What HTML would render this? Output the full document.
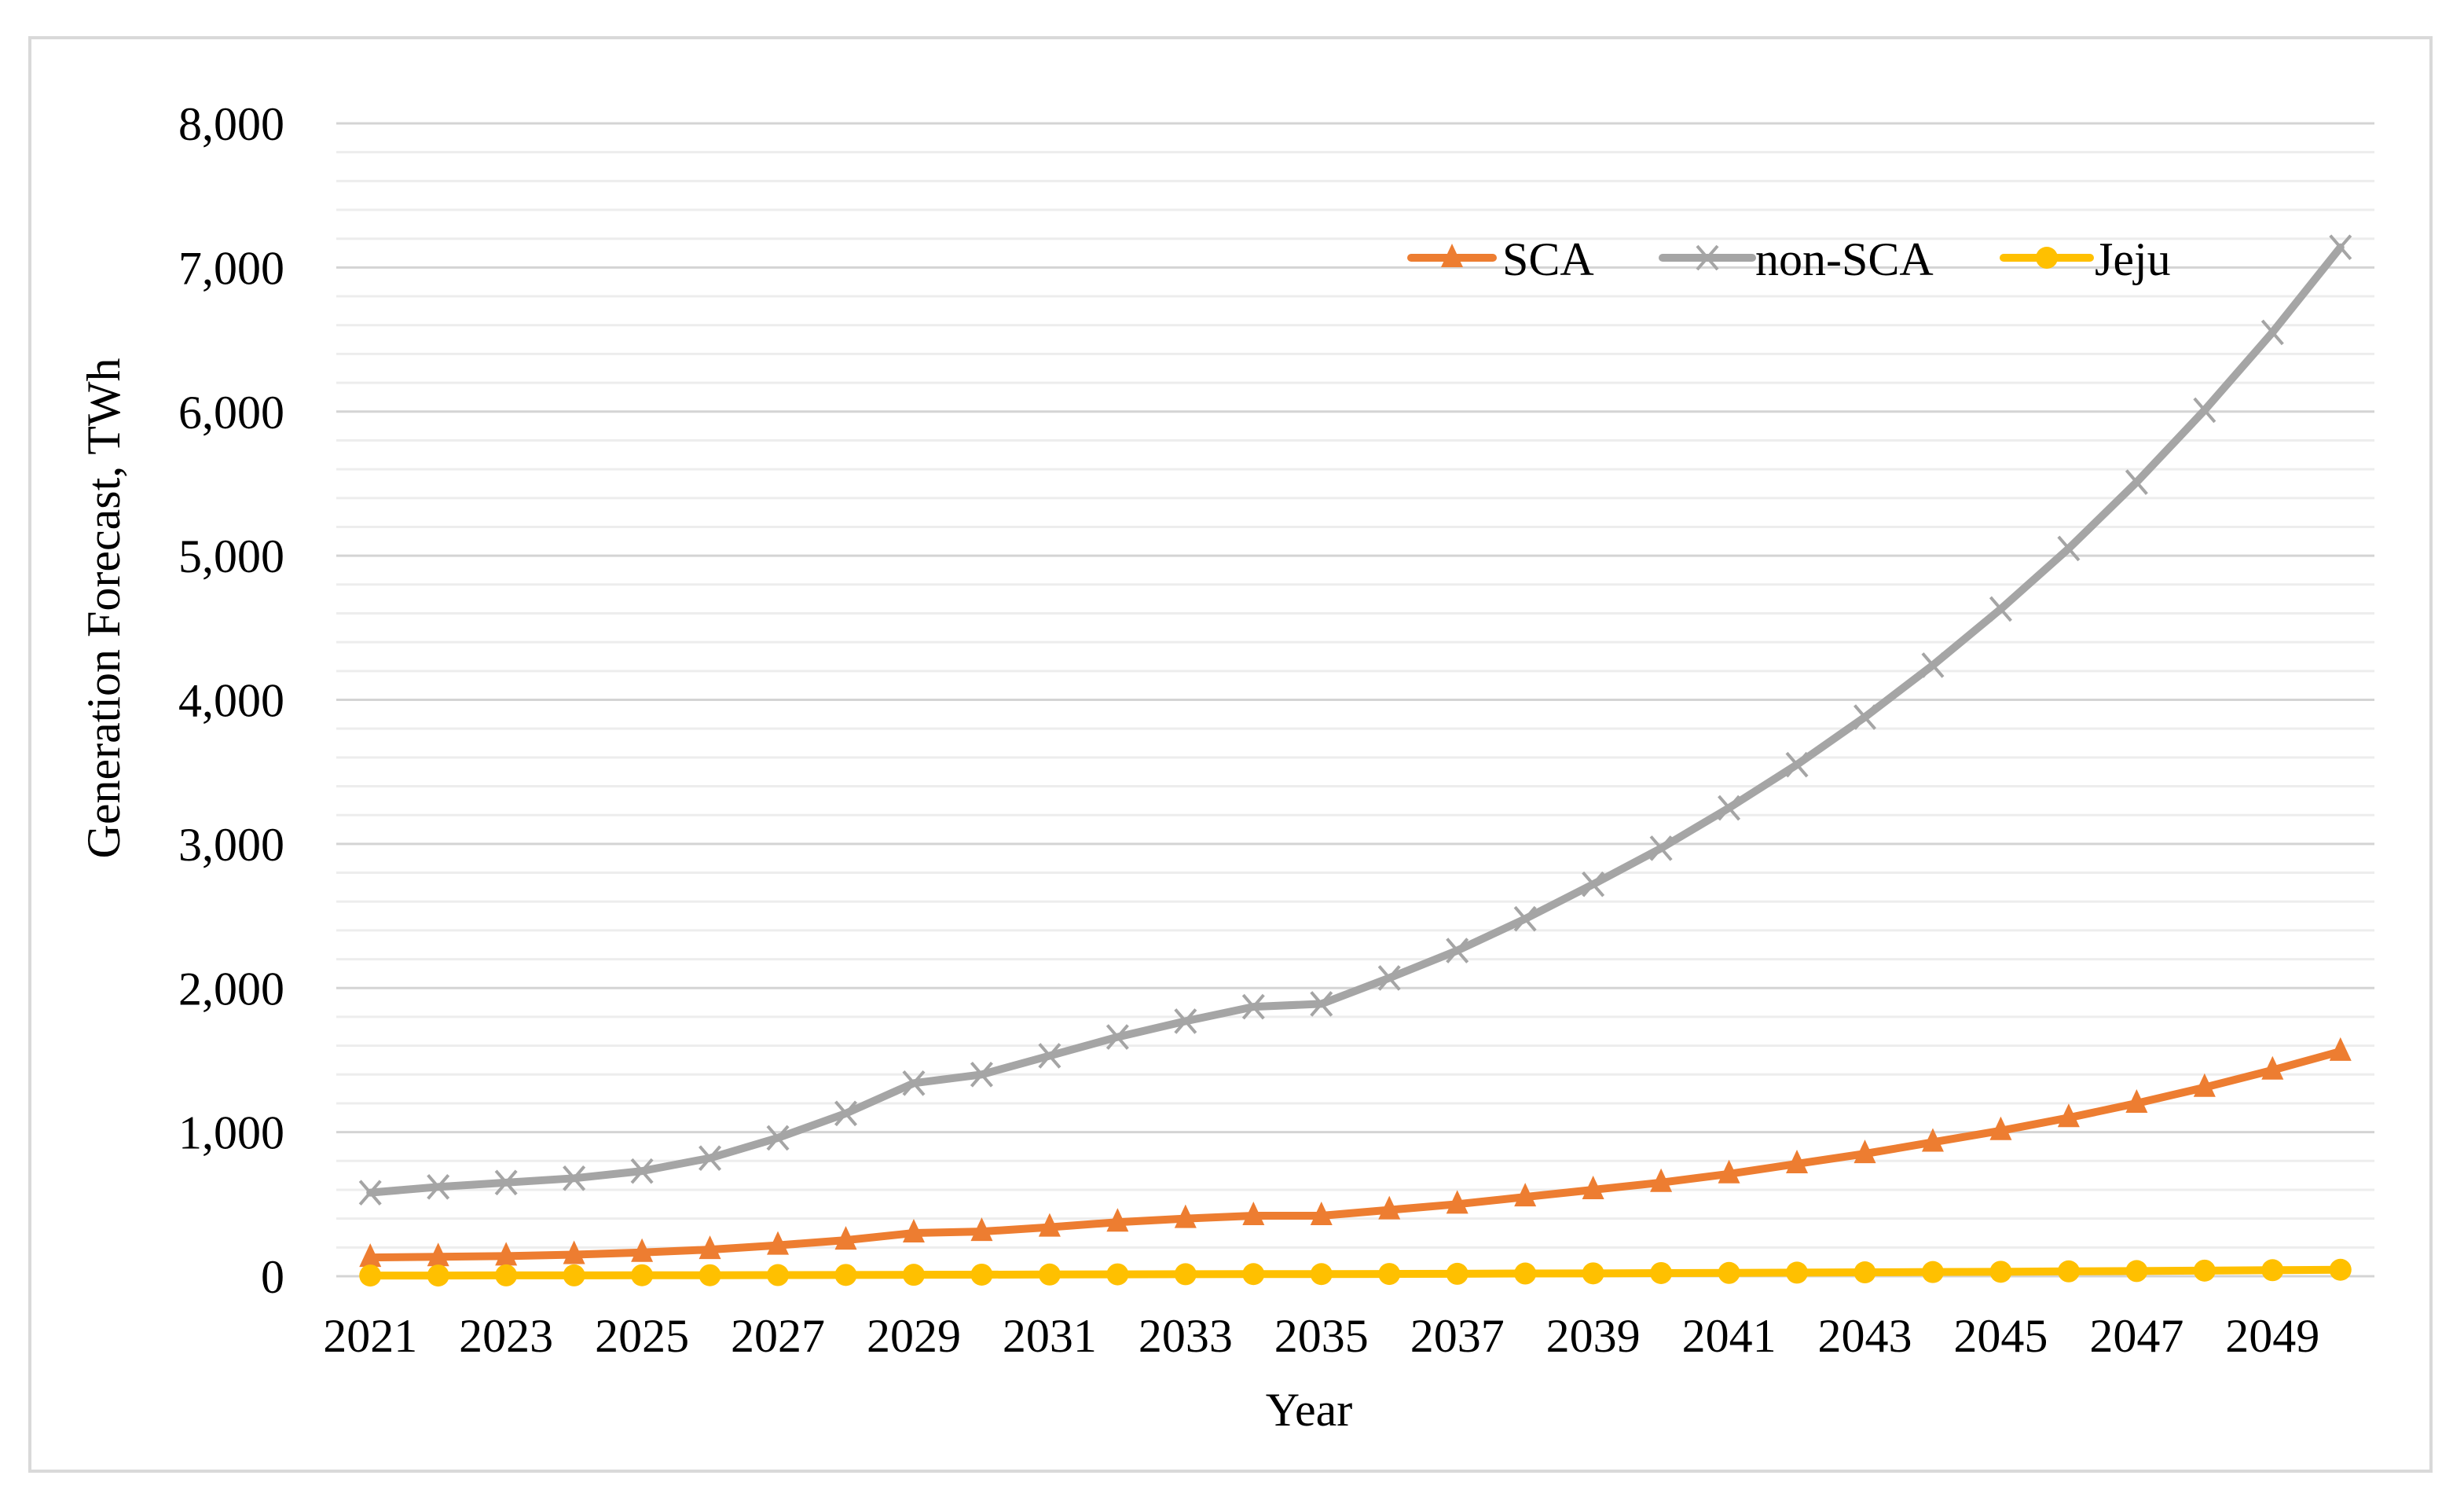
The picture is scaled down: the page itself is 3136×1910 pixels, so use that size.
<!DOCTYPE html>
<html><head><meta charset="utf-8"><style>
html,body{margin:0;padding:0;background:#fff}
svg{display:block}
text{font-family:"Liberation Serif",serif;fill:#000}
</style></head><body>
<svg id="chart" width="3136" height="1910" viewBox="0 0 3136 1910" xmlns="http://www.w3.org/2000/svg">
<rect x="38" y="48" width="3056" height="1824" fill="#fff" stroke="#d9d9d9" stroke-width="4"/>
<g id="grid"></g>
<g id="yticks"></g>
<g id="xticks"></g>
<g id="series"></g>
<text x="1666" y="1814" font-size="60" text-anchor="middle">Year</text>
<text transform="translate(152,774) rotate(-90)" font-size="60" text-anchor="middle">Generation Forecast, TWh</text>
<g id="legend"></g>
</svg>
<script>
const years = [];
for (let y = 2021; y <= 2050; y++) years.push(y);
const sca = [130,135,140,150,165,185,215,250,300,310,340,375,400,420,420,460,500,550,600,650,710,780,850,930,1010,1100,1200,1310,1430,1560];
const nonSca = [580,620,650,680,730,820,960,1130,1340,1400,1530,1660,1770,1870,1890,2070,2260,2480,2720,2970,3250,3550,3880,4240,4630,5050,5510,6010,6550,7140];
const jeju = [5,5,6,6,7,7,8,9,10,11,12,13,14,15,15,16,17,19,20,22,23,25,27,29,31,34,36,39,42,45];
const yTicks = [0,1000,2000,3000,4000,5000,6000,7000,8000];
const yTickLabels = ["0","1,000","2,000","3,000","4,000","5,000","6,000","7,000","8,000"];

const NS = "http://www.w3.org/2000/svg";
const L = 428, R = 3022, T = 157, B = 1624, YMAX = 8000;
const band = (R - L) / years.length;
const xs = i => L + (i + 0.5) * band;
const ys = v => B - v / YMAX * (B - T);
function mk(tag, attrs, parent){const e=document.createElementNS(NS,tag);for(const k in attrs)e.setAttribute(k,attrs[k]);parent.appendChild(e);return e;}

const grid = document.getElementById('grid');
for (let v = 200; v < YMAX; v += 200) {
  if (v % 1000 === 0) continue;
  const l = mk('line',{x1:L,x2:R,y1:ys(v),y2:ys(v),stroke:'#ededed','stroke-width':3},grid);
  
  
}
yTicks.forEach((v,i)=>{
  const l = mk('line',{x1:L,x2:R,y1:ys(v),y2:ys(v),stroke:'#d4d4d4','stroke-width':3},grid);
  
  
  const t = mk('text',{x:362,y:ys(v)+21,'font-size':60,'text-anchor':'end'},document.getElementById('yticks'));
  t.textContent = yTickLabels[i];
  
  
});
years.forEach((y,i)=>{
  if (i % 2) return;
  const t = mk('text',{x:xs(i),y:1720,'font-size':60,'text-anchor':'middle'},document.getElementById('xticks'));
  t.textContent = y;
  
  
});

function marker(type,x,y,color,parent){
  let m;
  if (type==='tri') m = mk('polygon',{points:`${x},${y-18} ${x-14},${y+12} ${x+14},${y+12}`,fill:color},parent);
  else if (type==='circ') m = mk('circle',{cx:x,cy:y,r:14,fill:color},parent);
  else m = mk('path',{d:`M${x-13},${y-15}L${x+13},${y+15}M${x-13},${y+15}L${x+13},${y-15}`,stroke:color,'stroke-width':4,fill:'none'},parent);
  return m;
}
const seriesDefs = [
  {name:'non-sca',data:nonSca,color:'#a5a5a5',mk:'x'},
  {name:'sca',data:sca,color:'#ed7d31',mk:'tri'},
  {name:'jeju',data:jeju,color:'#ffc000',mk:'circ'}
];
const sg = document.getElementById('series');
seriesDefs.forEach(s=>{
  const g = mk('g',{},sg);
  
  
  const p = mk('polyline',{points:s.data.map((v,i)=>xs(i)+','+ys(v)).join(' '),fill:'none',stroke:s.color,'stroke-width':10,'stroke-linejoin':'round','stroke-linecap':'round'},g);
  
  
  s.data.forEach((v,i)=>{
    const m = marker(s.mk,xs(i),ys(v),s.color,g);
    
    
  });
});

const lg = document.getElementById('legend');
const legendItems = [
  {label:'SCA',color:'#ed7d31',mk:'tri',x1:1796,x2:1900,tx:1912},
  {label:'non-SCA',color:'#a5a5a5',mk:'x',x1:2116,x2:2230,tx:2234},
  {label:'Jeju',color:'#ffc000',mk:'circ',x1:2550,x2:2660,tx:2666}
];
legendItems.forEach(it=>{
  const g = mk('g',{},lg);
  
  
  mk('line',{x1:it.x1,x2:it.x2,y1:328,y2:328,stroke:it.color,'stroke-width':10,'stroke-linecap':'round'},g);
  marker(it.mk,(it.x1+it.x2)/2,328,it.color,g);
  const t = mk('text',{x:it.tx,y:350,'font-size':60},g);
  t.textContent = it.label;
});
</script>
</body></html>
